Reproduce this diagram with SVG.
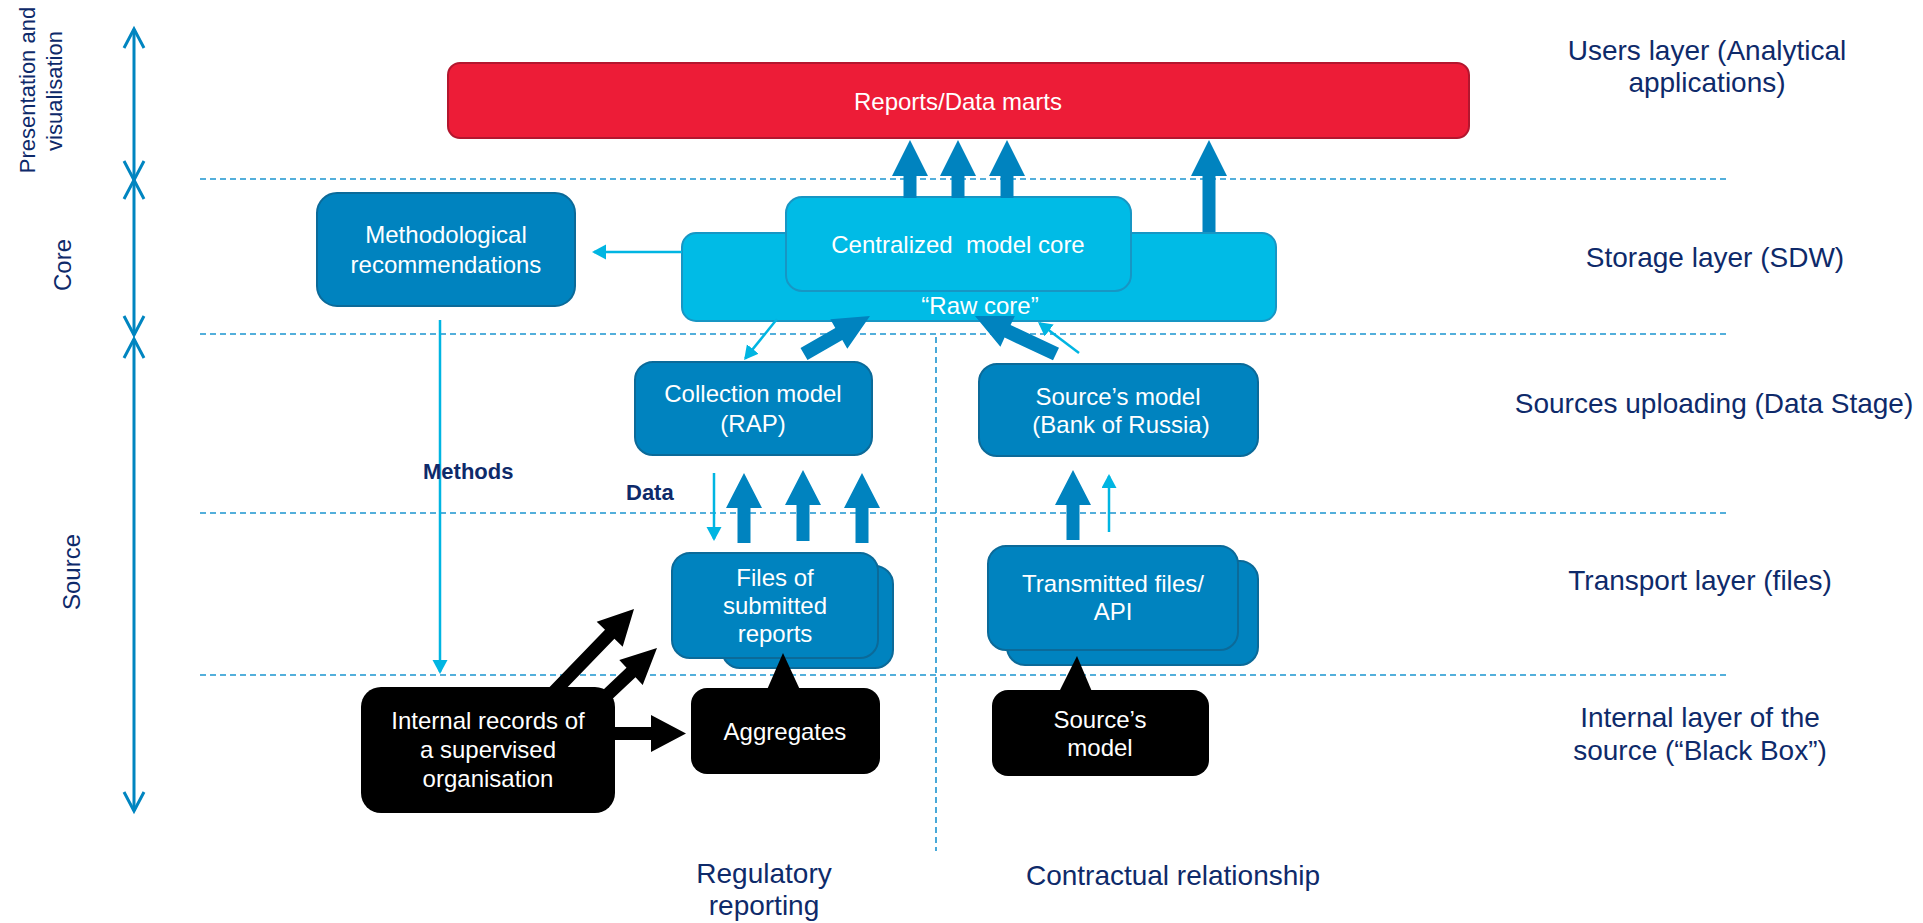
<svg xmlns="http://www.w3.org/2000/svg" width="1923" height="923" viewBox="0 0 1923 923">
<style>
text{font-family:"Liberation Sans",Arial,sans-serif}
.bt{font-size:24px;fill:#ffffff;text-anchor:middle}
.lbl{font-size:28px;fill:#0E2A6A;text-anchor:middle}
.side{font-size:22px;fill:#0E2A6A;text-anchor:middle}
.side2{font-size:24px;fill:#0E2A6A;text-anchor:middle}
.bold{font-size:22px;font-weight:bold;fill:#0E2A6A}
.dash{stroke:#1B95D0;stroke-width:1.6;stroke-dasharray:6 4;fill:none}
.blue{fill:#0083BF;stroke:#0B6A99;stroke-width:2}
.cyan{fill:#00BBE6;stroke:#1796C4;stroke-width:2}
.red{fill:#ED1C37;stroke:#B3162E;stroke-width:2}
.blk{fill:#000000}
.thick{fill:#0083BF}
.thin{stroke:#00B5E2;stroke-width:2.5;fill:none;marker-end:url(#th)}
.axis{stroke:#0085C0;stroke-width:3;fill:none;marker-start:url(#chev);marker-end:url(#chev)}
</style>
<defs>
<marker id="th" markerUnits="userSpaceOnUse" markerWidth="16" markerHeight="16" refX="12" refY="7.5" orient="auto" viewBox="0 0 16 16">
<path d="M0,0 L14,7.5 L0,15 z" fill="#00B5E2"/>
</marker>
<marker id="chev" markerUnits="userSpaceOnUse" markerWidth="24" markerHeight="26" refX="20" refY="12" orient="auto-start-reverse" viewBox="0 0 24 26">
<path d="M1,2 L20,12 L1,22" fill="none" stroke="#0085C0" stroke-width="3"/>
</marker>
</defs>
<rect width="1923" height="923" fill="#ffffff"/>

<g id="layers">
<line class="dash" x1="200" y1="179" x2="1728" y2="179"/>
<line class="dash" x1="200" y1="334" x2="1728" y2="334"/>
<line class="dash" x1="200" y1="513" x2="1728" y2="513"/>
<line class="dash" x1="200" y1="675" x2="1728" y2="675"/>
<line class="dash" x1="936" y1="337" x2="936" y2="851"/>
</g>

<g id="axis">
<line class="axis" x1="134" y1="29" x2="134" y2="180"/>
<line class="axis" x1="134" y1="180" x2="134" y2="335"/>
<line class="axis" x1="134" y1="339" x2="134" y2="811"/>
<text class="side" transform="translate(35,90) rotate(-90)">Presentation and</text>
<text class="side" transform="translate(62,91) rotate(-90)">visualisation</text>
<text class="side2" transform="translate(71,265) rotate(-90)">Core</text>
<text class="side2" transform="translate(80,572) rotate(-90)">Source</text>
</g>

<g id="layer-labels">
<text class="lbl" x="1707" y="60">Users layer (Analytical</text>
<text class="lbl" x="1707" y="92">applications)</text>
<text class="lbl" x="1715" y="267">Storage layer (SDW)</text>
<text class="lbl" x="1714" y="413">Sources uploading (Data Stage)</text>
<text class="lbl" x="1700" y="590">Transport layer (files)</text>
<text class="lbl" x="1700" y="727">Internal layer of the</text>
<text class="lbl" x="1700" y="760">source (“Black Box”)</text>
<text class="lbl" x="764" y="883">Regulatory</text>
<text class="lbl" x="764" y="915">reporting</text>
<text class="lbl" x="1173" y="885">Contractual relationship</text>
</g>

<g id="reports">
<rect class="red" x="448" y="63" width="1021" height="75" rx="12"/>
<text class="bt" x="958" y="110">Reports/Data marts</text>
</g>

<g id="methodological">
<rect class="blue" x="317" y="193" width="258" height="113" rx="20"/>
<text class="bt" x="446" y="243">Methodological</text>
<text class="bt" x="446" y="273">recommendations</text>
</g>

<g id="raw-core">
<rect class="cyan" x="682" y="233" width="594" height="88" rx="14"/>
<text class="bt" x="980" y="314">“Raw core”</text>
</g>

<g id="centralized">
<rect class="cyan" x="786" y="197" width="345" height="94" rx="16"/>
<text class="bt" x="958" y="253" xml:space="preserve">Centralized  model core</text>
</g>

<g id="collection">
<rect class="blue" x="635" y="362" width="237" height="93" rx="18"/>
<text class="bt" x="753" y="402">Collection model</text>
<text class="bt" x="753" y="432">(RAP)</text>
</g>

<g id="sources-model">
<rect class="blue" x="979" y="364" width="279" height="92" rx="18"/>
<text class="bt" x="1118" y="405">Source’s model</text>
<text class="bt" x="1121" y="433">(Bank of Russia)</text>
</g>

<g id="files">
<rect class="blue" x="722" y="566" width="171" height="102" rx="18"/>
<rect class="blue" x="672" y="553" width="206" height="105" rx="18"/>
<text class="bt" x="775" y="586">Files of</text>
<text class="bt" x="775" y="614">submitted</text>
<text class="bt" x="775" y="642">reports</text>
</g>

<g id="transmitted">
<rect class="blue" x="1007" y="561" width="251" height="104" rx="18"/>
<rect class="blue" x="988" y="546" width="250" height="104" rx="18"/>
<text class="bt" x="1113" y="592">Transmitted files/</text>
<text class="bt" x="1113" y="620">API</text>
</g>

<g id="internal-records">
<rect class="blk" x="361" y="687" width="254" height="126" rx="20"/>
<text class="bt" x="488" y="729">Internal records of</text>
<text class="bt" x="488" y="758">a supervised</text>
<text class="bt" x="488" y="787">organisation</text>
</g>

<g id="aggregates">
<polygon class="blk" points="766,692 783,653 801,692"/>
<rect class="blk" x="691" y="688" width="189" height="86" rx="16"/>
<text class="bt" x="785" y="740">Aggregates</text>
</g>

<g id="source-model-internal">
<polygon class="blk" points="1058,694 1077,656 1093,694"/>
<rect class="blk" x="992" y="690" width="217" height="86" rx="16"/>
<text class="bt" x="1100" y="728">Source’s</text>
<text class="bt" x="1100" y="756">model</text>
</g>

<g id="connectors">
<polygon class="thick" points="903.5,198 903.5,176 892,176 910,140 928,176 916.5,176 916.5,198"/>
<polygon class="thick" points="951.5,198 951.5,176 940,176 958,140 976,176 964.5,176 964.5,198"/>
<polygon class="thick" points="1000.5,198 1000.5,176 989,176 1007,140 1025,176 1013.5,176 1013.5,198"/>
<polygon class="thick" points="1202.5,232 1202.5,176 1191,176 1209,140 1227,176 1215.5,176 1215.5,232"/>
<polygon class="thick" points="800.5,347.9 835.3,327.9 830.3,319.3 870,316 847.3,348.7 842.3,340.1 807.5,360.1"/>
<polygon class="thick" points="1053,360.3 1004.6,337.6 1000.4,346.7 975,316 1014.8,315.9 1010.6,325 1059,347.7"/>
<polygon class="thick" points="737.5,543 737.5,508 726,508 744,473 762,508 750.5,508 750.5,543"/>
<polygon class="thick" points="796.5,541 796.5,505 785,505 803,470 821,505 809.5,505 809.5,541"/>
<polygon class="thick" points="855.5,543 855.5,508 844,508 862,473 880,508 868.5,508 868.5,543"/>
<polygon class="thick" points="1066.5,540 1066.5,505 1055,505 1073,470 1091,505 1079.5,505 1079.5,540"/>
<polygon class="blk" points="544.3,692.5 605,629.7 596.7,621.7 634,609 622.7,646.7 614.4,638.7 553.7,701.5"/>
<polygon class="blk" points="594.3,698.2 626.5,667.8 619.3,660.1 657,648 642.7,684.9 635.5,677.2 603.3,707.6"/>
<polygon class="blk" points="600,727 651,727 651,715 686,733.5 651,752 651,740 600,740"/>
<line class="thin" x1="682" y1="252" x2="594" y2="252"/>
<line class="thin" x1="777" y1="319" x2="745.3" y2="358.4"/>
<line class="thin" x1="1079" y1="353" x2="1039.6" y2="323.2"/>
<line class="thin" x1="440" y1="320" x2="440" y2="672"/>
<line class="thin" x1="714" y1="473" x2="714" y2="539"/>
<line class="thin" x1="1109" y1="532" x2="1109" y2="476"/>
<text class="bold" x="423" y="479">Methods</text>
<text class="bold" x="626" y="500">Data</text>
</g>
</svg>
